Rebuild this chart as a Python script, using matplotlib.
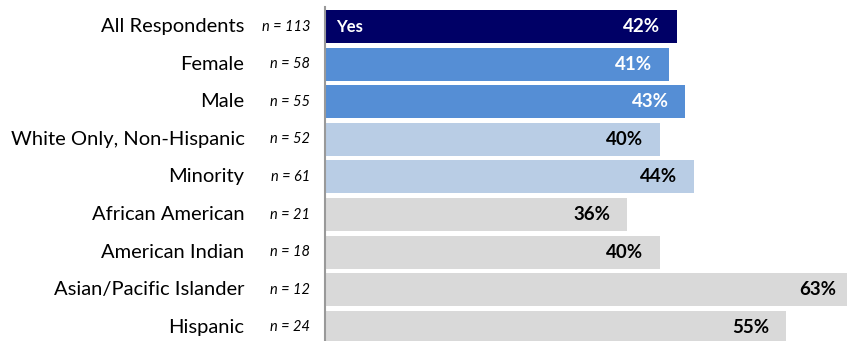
import matplotlib.pyplot as plt

categories = ["All Respondents", "Female", "Male", "White Only, Non-Hispanic", "Minority",
              "African American", "American Indian", "Asian/Pacific Islander", "Hispanic"]
n_labels = ["n = 113", "n = 58", "n = 55", "n = 52", "n = 61", "n = 21", "n = 18", "n = 12", "n = 24"]
values = [42, 41, 43, 40, 44, 36, 40, 63, 55]

colors = ["#000066", "#558ED5", "#558ED5", "#B9CDE5", "#B9CDE5",
          "#D9D9D9", "#D9D9D9", "#D9D9D9", "#D9D9D9"]
text_colors = ["white", "white", "white", "black", "black", "black", "black", "black", "black"]

plt.rcParams['font.family'] = ['Lato', 'DejaVu Sans']

W, H = 847, 341
fig = plt.figure(figsize=(W / 100, H / 100), dpi=100)
ax = fig.add_axes([325 / W, 0, 1 - 325 / W, 1 - 7 / H])

pos = list(range(len(categories)))
ax.barh(pos, values, height=0.88, color=colors)
ax.set_xlim(0, 62.3)
ax.set_ylim(8.364, -0.52)

for i, v in enumerate(values):
    ax.annotate(f"{v}%", (v, i), xytext=(-12, 0), textcoords="offset points",
                ha="right", va="center", fontsize=13.5, fontweight="bold",
                color=text_colors[i], annotation_clip=False)
    ax.annotate(categories[i], (0, i), xytext=(-58, 0), textcoords="offset points",
                ha="right", va="center", fontsize=14.5, color="#000000",
                annotation_clip=False)
    ax.annotate(n_labels[i], (0, i), xytext=(-10.5, 0), textcoords="offset points",
                ha="right", va="center", fontsize=10.5, style="italic",
                color="#000000", annotation_clip=False)

ax.annotate("Yes", (0, 0), xytext=(8, 0), textcoords="offset points",
            ha="left", va="center", fontsize=12, fontweight="bold", color="white")

for s in ["top", "right", "bottom"]:
    ax.spines[s].set_visible(False)
ax.spines["left"].set_color("#999999")
ax.spines["left"].set_linewidth(1.5)
ax.set_xticks([])
ax.set_yticks([])

fig.savefig("out.png", dpi=100)
